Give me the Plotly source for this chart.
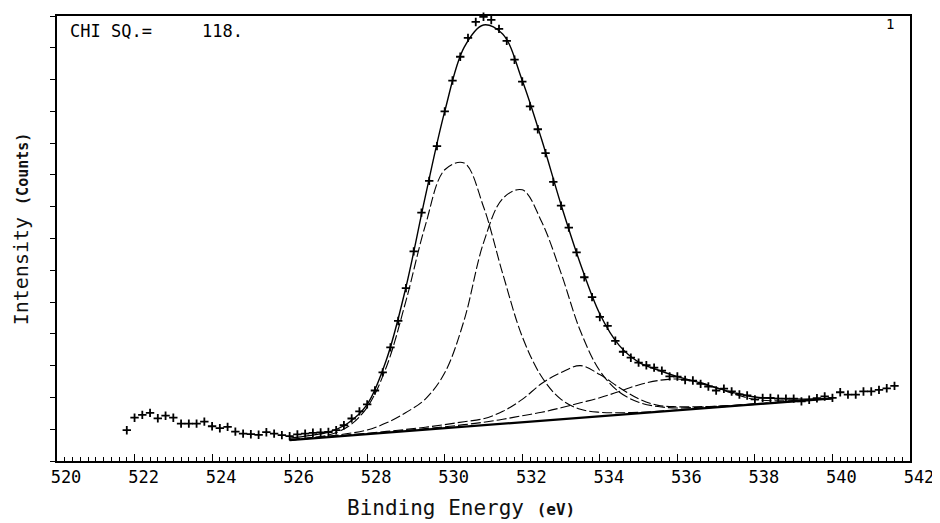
import plotly.graph_objects as go

# ---- measured spectrum (binding energy, eV) ----
energy_pts = [521.8, 522.0, 522.2, 522.4, 522.6, 522.8,
              523.0, 523.2, 523.4, 523.6, 523.8,
              524.0, 524.2, 524.4, 524.6, 524.8,
              525.0, 525.2, 525.4, 525.6, 525.8,
              526.0, 526.2, 526.4, 526.6, 526.8,
              527.0, 527.2, 527.4, 527.6, 527.8,
              528.0, 528.2, 528.4, 528.6, 528.8,
              529.0, 529.2, 529.4, 529.6, 529.8,
              530.0, 530.2, 530.4, 530.6, 530.8,
              531.0, 531.2, 531.4, 531.6, 531.8,
              532.0, 532.2, 532.4, 532.6, 532.8,
              533.0, 533.2, 533.4, 533.6, 533.8,
              534.0, 534.2, 534.4, 534.6, 534.8,
              535.0, 535.2, 535.4, 535.6, 535.8,
              536.0, 536.2, 536.4, 536.6, 536.8,
              537.0, 537.2, 537.4, 537.6, 537.8,
              538.0, 538.2, 538.4, 538.6, 538.8,
              539.0, 539.2, 539.4, 539.6, 539.8,
              540.0, 540.2, 540.4, 540.6, 540.8,
              541.0, 541.2, 541.4, 541.6]
counts_pts = [775, 1090, 1160, 1210, 1075, 1140,
              1090, 940, 940, 940, 990,
              875, 825, 860, 740, 690,
              675, 660, 725, 690, 650,
              625, 670, 690, 710, 720,
              730, 775, 900, 1070, 1250,
              1425, 1775, 2230, 2860, 3525,
              4350, 5275, 6250, 7050, 7925,
              8800, 9575, 10175, 10650, 11050,
              11180, 11100, 10875, 10575, 10100,
              9550, 8925, 8350, 7750, 7025,
              6425, 5875, 5250, 4625, 4125,
              3625, 3400, 3025, 2750, 2600,
              2475, 2410, 2350, 2275, 2130,
              2125, 2040, 2025, 1940, 1875,
              1775, 1820, 1750, 1675, 1650,
              1550, 1590, 1590, 1570, 1570,
              1570, 1500, 1540, 1580, 1625,
              1590, 1730, 1670, 1670, 1750,
              1750, 1790, 1830, 1890]

# ---- fitted curves ----
fit_energy = [526.0, 526.5, 527.0, 527.5, 528.0, 528.5, 529.0, 529.5, 530.0, 530.5,
              531.0, 531.5, 532.0, 532.5, 533.0, 533.5, 534.0, 534.5, 535.0, 535.5,
              536.0, 536.5, 537.0, 537.5, 538.0, 538.5, 539.0, 539.5, 540.0]
envelope = [575, 640, 725, 950, 1425, 2560, 4375, 6660, 8800, 10410,
            10975, 10740, 9575, 8090, 6450, 4960, 3700, 2910, 2490, 2290,
            2125, 1990, 1840, 1710, 1610, 1575, 1560, 1560, 1575]
peak_1 = [525, 575, 655, 860, 1350, 2380, 4030, 5930, 7330, 7500,
          6400, 4700, 3130, 2120, 1550, 1300, 1225, 1215, 1225, 1250,
          1285, 1320, 1355, 1390, 1425, 1465, 1500, 1540, 1575]
peak_2 = [545, 580, 625, 690, 780, 960, 1220, 1560, 2220, 3540,
          5490, 6610, 6825, 6020, 4730, 3270, 2270, 1735, 1480, 1370,
          1335, 1350, 1375, 1400, 1435, 1470, 1505, 1540, 1575]
peak_3 = [530, 570, 610, 655, 700, 745, 795, 850, 915, 990,
          1065, 1250, 1550, 1950, 2225, 2400, 2175, 1850, 1565, 1400,
          1365, 1365, 1380, 1405, 1440, 1470, 1505, 1540, 1575]
peak_4 = [525, 565, 605, 645, 685, 725, 770, 815, 860, 915,
          975, 1050, 1140, 1225, 1340, 1465, 1590, 1750, 1915, 2025,
          2065, 2000, 1850, 1675, 1550, 1515, 1520, 1545, 1575]
base_energy = [526.0, 540.0]
baseline = [525, 1575]

chi_label = "CHI SQ.="
chi_value = "118."
panel_label = "1"

MONO = "DejaVu Sans Mono"

fig = go.Figure()
for comp in (peak_1, peak_2, peak_3, peak_4):
    fig.add_trace(go.Scatter(
        x=fit_energy, y=comp, mode="lines",
        line=dict(color="black", width=1.1, dash="10px,3px", shape="spline", smoothing=1.0),
        hoverinfo="skip"))
fig.add_trace(go.Scatter(
    x=base_energy, y=baseline, mode="lines",
    line=dict(color="black", width=2.2)))
fig.add_trace(go.Scatter(
    x=fit_energy, y=envelope, mode="lines",
    line=dict(color="black", width=1.4, shape="spline", smoothing=1.0)))
fig.add_trace(go.Scatter(
    x=energy_pts, y=counts_pts, mode="markers", cliponaxis=False,
    marker=dict(symbol="cross-thin", size=6, color="black",
                line=dict(color="black", width=1.8))))

# the page body adds an 8px offset, so the figure is sized to fit inside the window
fig.update_layout(
    width=932, height=515,
    margin=dict(l=49, r=30, t=6, b=62),
    paper_bgcolor="white", plot_bgcolor="white",
    showlegend=False,
    xaxis=dict(
        range=[520, 542], tickmode="linear", tick0=520, dtick=2,
        ticks="inside", ticklen=7, tickwidth=1.3, tickcolor="black",
        showline=True, linecolor="black", linewidth=1.5, mirror=True,
        showgrid=False, zeroline=False,
        tickfont=dict(family=MONO, size=17, color="black"),
        ticklabelshift=9,
        minor=dict(tick0=520, dtick=0.2, ticks="inside", ticklen=4,
                   tickwidth=1, tickcolor="black", showgrid=False),
    ),
    yaxis=dict(
        range=[0, 11200], tickmode="linear", tick0=0, dtick=800,
        ticks="outside", ticklen=5, tickwidth=1.2, tickcolor="black",
        showticklabels=False,
        showline=True, linecolor="black", linewidth=1.5, mirror=True,
        showgrid=False, zeroline=False,
    ),
    annotations=[
        dict(text='Binding Energy <b><span style="font-size:16px">(eV)</span></b>',
             xref="paper", yref="paper", x=0.4736, y=-0.105,
             xanchor="center", yanchor="middle", showarrow=False,
             font=dict(family=MONO, size=21, color="#111")),
        dict(text='Intensity <b><span style="font-size:15px">(Counts)</span></b>',
             xref="paper", yref="paper", x=-0.042, y=0.521, textangle=-90,
             xanchor="center", yanchor="middle", showarrow=False,
             font=dict(family=MONO, size=20, color="#111")),
        dict(text=chi_label, xref="paper", yref="paper", x=0.0129, y=0.966,
             xanchor="left", yanchor="middle", showarrow=False,
             font=dict(family=MONO, size=17, color="black")),
        dict(text=chi_value, xref="paper", yref="paper", x=0.1676, y=0.966,
             xanchor="left", yanchor="middle", showarrow=False,
             font=dict(family=MONO, size=17, color="black")),
        dict(text=panel_label, xref="paper", yref="paper", x=0.9766, y=0.982,
             xanchor="center", yanchor="middle", showarrow=False,
             font=dict(family=MONO, size=14, color="black")),
    ],
)

fig.write_html("out.html")
